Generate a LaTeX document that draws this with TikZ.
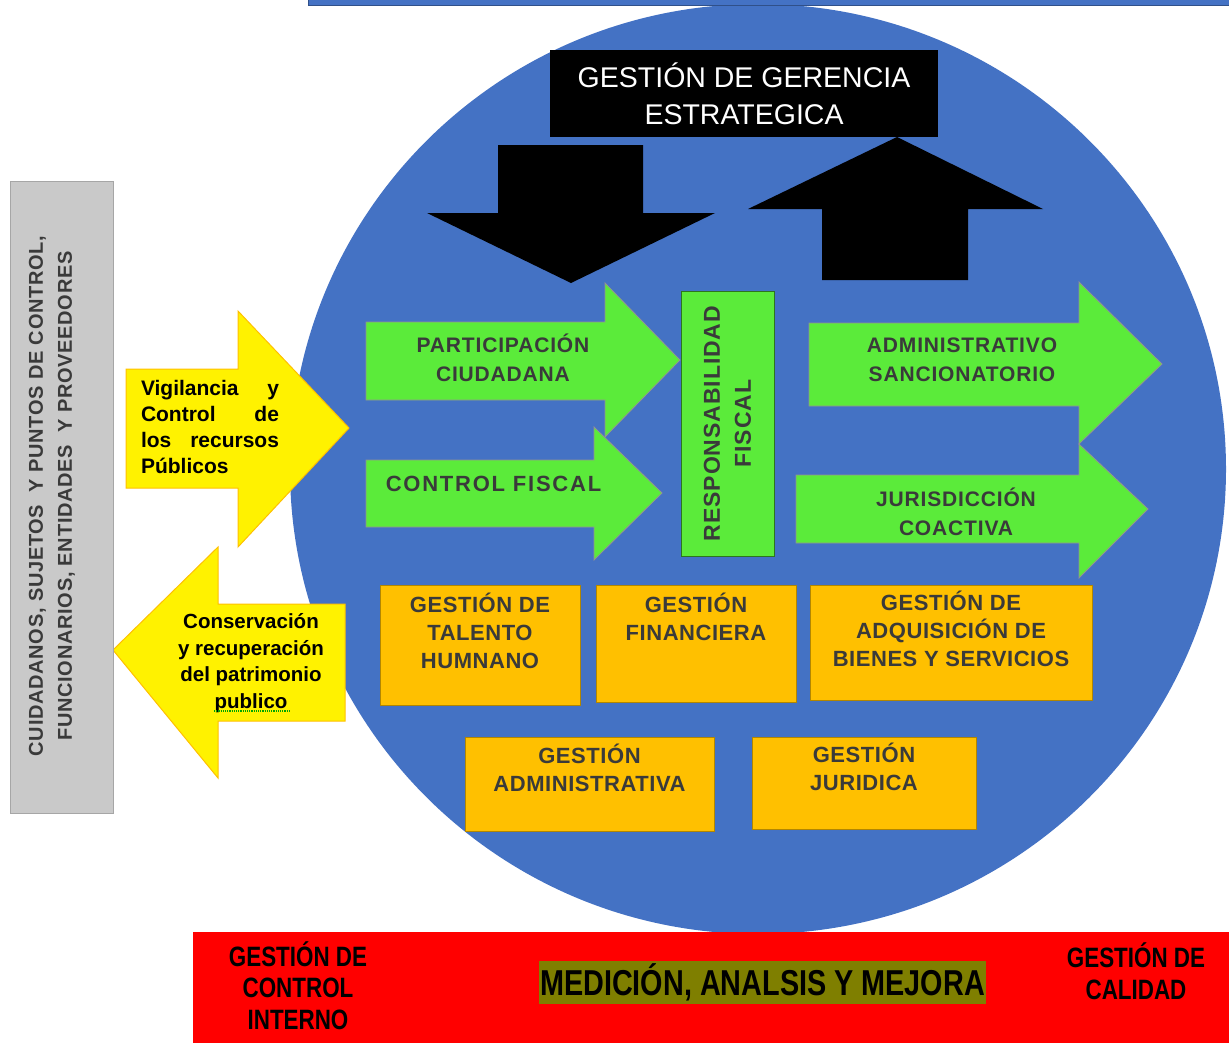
\documentclass[tikz,border=0pt]{standalone}
\usepackage{fontspec}
\setmainfont{Liberation Sans}
\newfontfamily\narrowfont[FakeStretch=0.8]{Liberation Sans}
\usetikzlibrary{positioning}
\definecolor{discblue}{HTML}{4472C4}
\definecolor{arrowgreen}{HTML}{5BEB3A}
\definecolor{boxorange}{HTML}{FFC000}
\definecolor{darktext}{HTML}{3A3A3A}
\definecolor{olivebar}{HTML}{7F7F00}
\tikzset{
  greenarrow/.style={
    fill=arrowgreen,
    draw=gray!85,
    line width=0.8pt
  },
  yellowarrow/.style={
    fill=yellow,
    draw=boxorange,
    line width=1pt
  },
  greentext/.style={
    font=\bfseries\fontsize{21}{29}\selectfont\addfontfeature{LetterSpace=4},
    text=darktext,
    align=center
  },
  orangebox/.style={
    draw=boxorange!70!black,
    fill=boxorange,
    line width=1pt,
    inner sep=0pt
  },
  orangetext/.style={
    font=\bfseries\fontsize{22}{28}\selectfont\addfontfeature{LetterSpace=2.5},
    text=darktext,
    align=center,
    inner sep=0pt
  },
  yellowtext/.style={
    font=\bfseries\fontsize{21}{26}\selectfont,
    inner sep=0pt
  },
  redtext/.style={
    font=\narrowfont\bfseries\fontsize{28}{31.5}\selectfont,
    align=center
  }
}

\begin{document}
\begin{tikzpicture}[x=1pt,y=-1pt]
  \useasboundingbox (0,0) rectangle (1229,1042);
  % disc and top band
  \fill[discblue] (758,469) ellipse [x radius=468pt, y radius=465pt];
  \draw[fill=discblue, draw=discblue!70!black] (308,-4) rectangle (1240,5);

  % strategic management and its two black arrows
  \node[fill=black, text=white, minimum width=388pt, minimum height=87pt,
        font=\fontsize{28.5}{37}\selectfont, align=center] (gerencia) at (744,93.5)
        {GESTIÓN DE GERENCIA\\ESTRATEGICA};
  \fill (498,145) -- (643,145) -- (643,213) -- (715,213) -- (571,283)
        -- (427,213) -- (498,213) -- cycle;
  \fill (897,137) -- (1043,209) -- (968,209) -- (968,280) -- (822,280)
        -- (822,209) -- (748,209) -- cycle;

  % green arrows
  \draw[greenarrow] (366,322) -- (605,322) -- (605,283) -- (680,360)
        -- (605,437) -- (605,400) -- (366,400) -- cycle;
  \node[greentext] (participacion) at (503,358) {PARTICIPACIÓN\\CIUDADANA};
  \draw[greenarrow] (366,460) -- (594,460) -- (594,427) -- (662,493)
        -- (594,560) -- (594,527) -- (366,527) -- cycle;
  \node[greentext, font=\bfseries\fontsize{22}{29}\selectfont\addfontfeature{LetterSpace=8}] (control) at (493.5,484) {CONTROL FISCAL};
  \draw[greenarrow] (809,323) -- (1079,323) -- (1079,282) -- (1162,364)
        -- (1079,444) -- (1079,406) -- (809,406) -- cycle;
  \node[greentext] (sancionatorio) at (962,360) {ADMINISTRATIVO\\SANCIONATORIO};
  \draw[greenarrow] (796,475) -- (1079,475) -- (1079,444) -- (1148,509)
        -- (1079,578) -- (1079,543) -- (796,543) -- cycle;
  \node[greentext] (coactiva) at (956,512) {JURISDICCIÓN\\COACTIVA};

  % fiscal responsibility
  \node[greenarrow, draw=arrowgreen!50!black, minimum width=93pt, minimum height=265pt] (resp) at (727.5,423.5) {};
  \node[greentext, font=\bfseries\fontsize{23}{31}\selectfont\addfontfeature{LetterSpace=4}, rotate=90] (resptext) at (resp.center) {RESPONSABILIDAD\\FISCAL};

  % management boxes
  \node[orangebox, minimum width=200pt, minimum height=120pt] (talento) at (480,645) {};
  \node[orangetext, below=8pt of talento.north] {GESTIÓN DE\\TALENTO\\HUMNANO};
  \node[orangebox, minimum width=200pt, minimum height=117pt] (financiera) at (696,643.5) {};
  \node[orangetext, below=8pt of financiera.north] {GESTIÓN\\FINANCIERA};
  \node[orangebox, minimum width=282pt, minimum height=115pt] (adquisicion) at (951,642.5) {};
  \node[orangetext, below=6pt of adquisicion.north] {GESTIÓN DE\\ADQUISICIÓN DE\\BIENES Y SERVICIOS};
  \node[orangebox, minimum width=249pt, minimum height=94pt] (administrativa) at (589.5,784) {};
  \node[orangetext, below=7pt of administrativa.north] {GESTIÓN\\ADMINISTRATIVA};
  \node[orangebox, minimum width=224pt, minimum height=92pt] (juridica) at (864,783) {};
  \node[orangetext, below=6pt of juridica.north] {GESTIÓN\\JURIDICA};

  % yellow arrows
  \draw[yellowarrow] (126,369) -- (238,369) -- (238,311) -- (349,428)
        -- (238,547) -- (238,488) -- (126,488) -- cycle;
  \node[yellowtext, text width=138pt, align=left] (vigilancia) at (210,427)
        {Vigilancia\hfill y\\Control\hfill de\\los\hfill recursos\\Públicos};
  \draw[yellowarrow] (113,650) -- (218,547) -- (218,604) -- (345,604)
        -- (345,721) -- (218,721) -- (218,778) -- cycle;
  \node[yellowtext, align=center, font=\bfseries\fontsize{20.5}{26.5}\selectfont] (conservacion) at (251,663)
        {Conservación\\y recuperación\\del patrimonio\\publico};
  \draw[green!65!black, densely dotted, line width=1.2pt] (214,711) -- (290,711);

  % stakeholders
  \node[fill=gray!42, draw=gray!70, line width=1pt, minimum width=103pt, minimum height=632pt] (actores) at (61.5,497) {};
  \node[font=\bfseries\fontsize{20}{29}\selectfont\addfontfeature{LetterSpace=3.5}, text=darktext, align=center, rotate=90] (actorestext) at (52,496)
        {CUIDADANOS, SUJETOS \ Y PUNTOS DE CONTROL,\\FUNCIONARIOS, ENTIDADES \ Y PROVEEDORES};

  % measurement bar
  \fill[red] (193,932) rectangle (1240,1050);
  \node[redtext] (controlinterno) at (298,985.5) {GESTIÓN DE\\CONTROL\\INTERNO};
  \node[redtext] (calidad) at (1136,971) {GESTIÓN DE\\CALIDAD};
  \node[fill=olivebar, inner xsep=1pt, inner ysep=3pt, font=\narrowfont\bfseries\fontsize{36}{37}\selectfont] (medicion) at (762.5,982.5)
        {MEDICIÓN, ANALSIS Y MEJORA};
\end{tikzpicture}
\end{document}
